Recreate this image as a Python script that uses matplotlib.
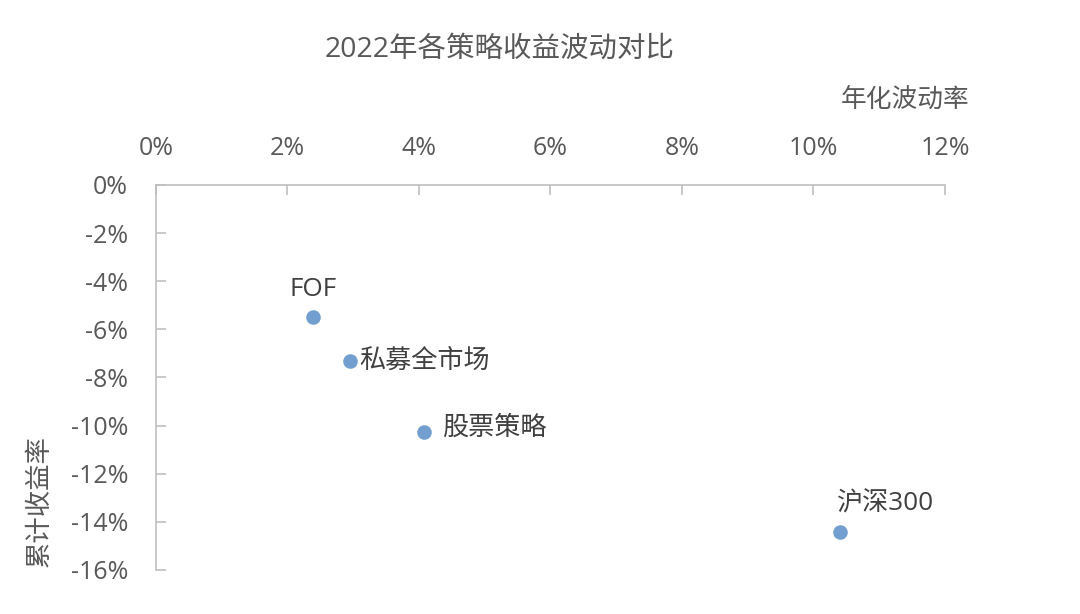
#coding:utf-8
import matplotlib
matplotlib.use('Agg')
import matplotlib.pyplot as plt
from matplotlib.ticker import FuncFormatter

plt.rcParams['font.family'] = ['Open Sans', 'Noto Sans CJK SC', 'DejaVu Sans']

names = ['FOF', '私募全市场', '股票策略', '沪深300']
vol = [2.39, 2.95, 4.08, 10.40]
ret = [-5.49, -7.31, -10.27, -14.42]
# label offsets in points, and alignment
offsets = [(0, 11), (7, 0), (13, 3), (-2, 11)]
aligns = [('center', 'bottom'), ('left', 'center'), ('left', 'center'), ('left', 'bottom')]

grey = '#595959'
line = '#bfbfbf'

fig = plt.figure(figsize=(10.8, 6.14), dpi=100)
ax = fig.add_axes([0.1444, 0.0717, 0.875 - 0.1444, 0.6987 - 0.0717])

ax.scatter(vol, ret, s=110, color='#729fcf', zorder=3, linewidths=0)
for n, x, y, off, al in zip(names, vol, ret, offsets, aligns):
    ax.annotate(n, (x, y), xytext=off, textcoords='offset points',
                ha=al[0], va=al[1], fontsize=18.8, color='#404040')

ax.set_xlim(0, 12)
ax.set_ylim(-16, 0)
ax.set_xticks(range(0, 13, 2))
ax.set_yticks(range(-16, 1, 2))
fmt = FuncFormatter(lambda v, p: '%d%%' % v)
ax.xaxis.set_major_formatter(fmt)
ax.yaxis.set_major_formatter(fmt)
ax.xaxis.tick_top()

for s in ['right', 'bottom']:
    ax.spines[s].set_visible(False)
for s in ['left', 'top']:
    ax.spines[s].set_color(line)
    ax.spines[s].set_linewidth(1.2)

ax.tick_params(axis='x', direction='in', length=7, color=line, width=1.2,
               labelsize=18, labelcolor=grey, pad=17)
ax.tick_params(axis='y', direction='in', length=7, color=line, width=1.2,
               labelsize=18, labelcolor=grey, pad=20)

fig.text(500 / 1080, 1 - 50 / 614, '2022年各策略收益波动对比', ha='center', va='center',
         fontsize=20.5, color=grey)
fig.text(970 / 1080, 1 - 100 / 614, '年化波动率', ha='right', va='center',
         fontsize=18.5, color=grey)
fig.text(40 / 1080, 1 - 567 / 614, '累计收益率', ha='center', va='bottom',
         rotation=90, fontsize=19, color=grey)

fig.savefig('out.png', dpi=100)
